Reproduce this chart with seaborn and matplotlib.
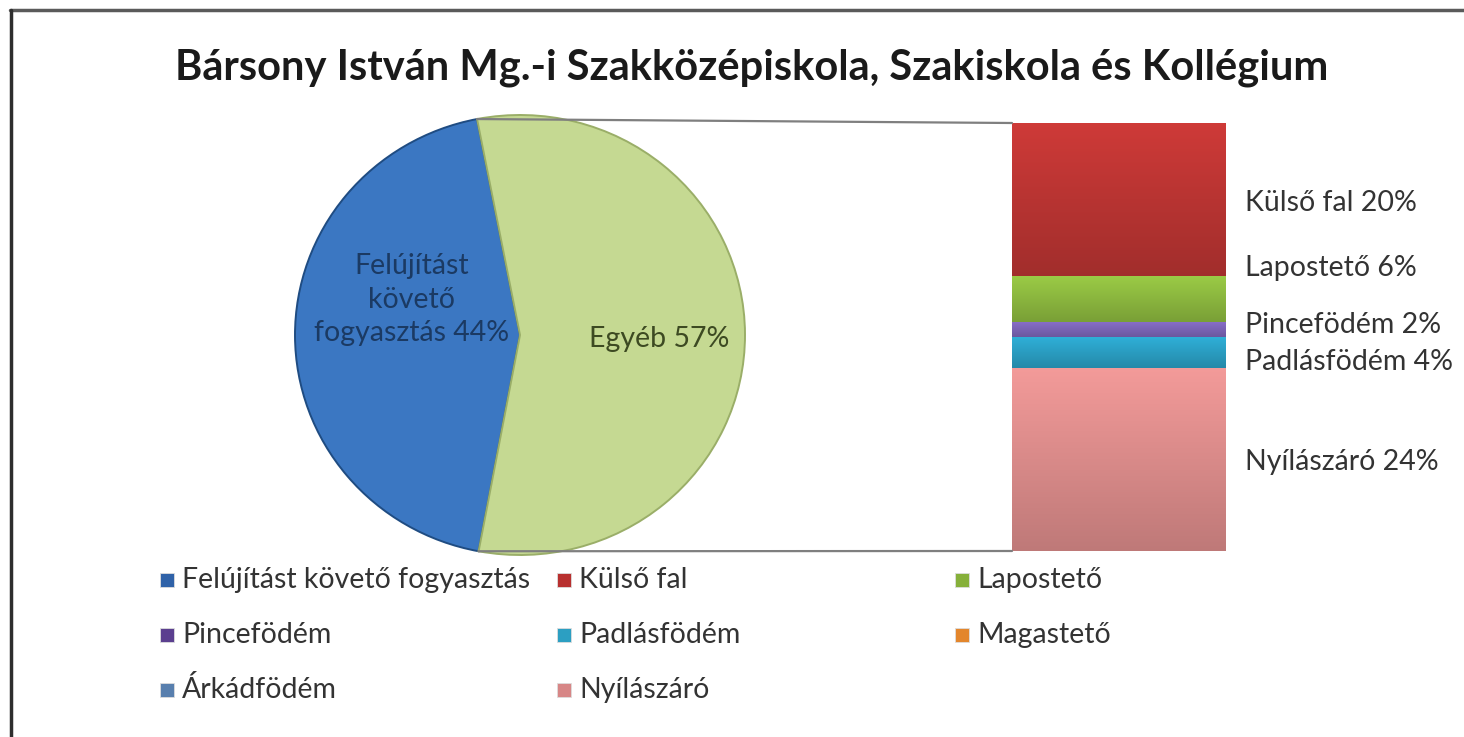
import numpy as np
import matplotlib
matplotlib.use('Agg')
import matplotlib.pyplot as plt
import seaborn as sns
from matplotlib.patches import ConnectionPatch, Rectangle
from matplotlib.lines import Line2D
from matplotlib.colors import to_rgb

# data
title = "Bársony István Mg.-i Szakközépiskola, Szakiskola és Kollégium"
pie_names = ["Felújítást\nkövető\nfogyasztás", "Egyéb"]
pie_values = [44, 56]
pie_shown_pct = [44, 57]

bar_names = ["Nyílászáró", "Padlásfödém", "Pincefödém", "Lapostető", "Külső fal"]
bar_values = [24, 4, 2, 6, 20]

legend_names = ["Felújítást követő fogyasztás", "Külső fal", "Lapostető",
                "Pincefödém", "Padlásfödém", "Magastető",
                "Árkádfödém", "Nyílászáró"]
legend_colors = ["#2f62a8", "#b8302f", "#86b03a",
                 "#5b3f8f", "#2c9fc2", "#e3862c",
                 "#587fae", "#d78686"]

pie_colors = ["#3b77c2", "#c5d992"]
pie_edge = ["#1f4c82", "#9aae68"]
bar_colors = {"Nyílászáró": "#d98a89", "Padlásfödém": "#2a9cc0", "Pincefödém": "#7a63b4",
              "Lapostető": "#8ab53e", "Külső fal": "#b83432"}

W, H = 1464, 737
sns.set_theme(style="white")
plt.rcParams['font.family'] = ['Lato', 'DejaVu Sans']

fig = plt.figure(figsize=(W / 100, H / 100), dpi=100)
fig.patch.set_facecolor("white")


def box(x0, y0, x1, y1):
    # pixel box (top-left origin) -> figure fraction rect
    return [x0 / W, 1 - y1 / H, (x1 - x0) / W, (y1 - y0) / H]


def fpt(x, y):
    return (x / W, 1 - y / H)


def shade(patch, ax, color, extent):
    # vertical light->dark gradient clipped to a patch (Excel-like bevel look)
    base = np.array(to_rgb(color))
    t = np.linspace(0, 1, 64)[:, None]
    rows = np.clip(base * (1.12 - 0.24 * t), 0, 1)
    img = np.repeat(rows[:, None, :], 2, axis=1)
    im = ax.imshow(img, extent=extent, aspect="auto", origin="upper", zorder=patch.get_zorder() + 0.1)
    im.set_clip_path(patch)


# frame of the slide
fig.add_artist(Line2D([fpt(10, 10)[0], 1], [fpt(10, 10)[1]] * 2, color="#5a5a5a", lw=2.5))
fig.add_artist(Line2D([fpt(11, 10)[0]] * 2, [fpt(11, 10)[1], 0], color="#2e2e2e", lw=2.5))

fig.text(*fpt(752, 68), title, ha="center", va="center", fontsize=30,
         fontweight="bold", color="#1a1a1a")

# pie
ax_pie = fig.add_axes(box(295, 115, 745, 555))
start = 101
wedges, _ = ax_pie.pie(pie_values, colors=pie_colors, startangle=start, counterclock=True,
                       radius=1, wedgeprops=dict(linewidth=1.4))
for w, ec in zip(wedges, pie_edge):
    w.set_edgecolor(ec)
ax_pie.set_aspect("auto")
ax_pie.set_xlim(-1, 1)
ax_pie.set_ylim(-1, 1)

ax_pie.text(-0.48, 0.16, f"{pie_names[0]} {pie_shown_pct[0]}%", ha="center", va="center",
            fontsize=20.5, color="#1b3a63", linespacing=1.35)
ax_pie.text(0.62, -0.02, f"{pie_names[1]} {pie_shown_pct[1]}%", ha="center", va="center",
            fontsize=20.5, color="#3d4a22")

# stacked bar of the "Egyéb" slice
ax_bar = fig.add_axes(box(1012, 123, 1226, 551))
bottom = 0
label_nudge = [-0.3, -1.3, 0.6, 4.0, -0.5]
for name, val, nudge in zip(bar_names, bar_values, label_nudge):
    sns.barplot(x=["Egyéb"], y=[val], bottom=bottom, color=bar_colors[name], width=1,
                saturation=1, edgecolor="#6e3a3a" if name in ("Külső fal", "Nyílászáró") else "#2b3f66",
                linewidth=0.8, ax=ax_bar)
    p = ax_bar.patches[-1]
    shade(p, ax_bar, bar_colors[name], (-0.5, 0.5, bottom, bottom + val))
    ax_bar.text(0.59, bottom + val / 2 + nudge, f"{name} {val}%", ha="left", va="center",
                fontsize=20.5, color="#333333", clip_on=False)
    bottom += val
ax_bar.set_xlim(-0.5, 0.5)
ax_bar.set_ylim(0, sum(bar_values))
ax_bar.axis("off")

# connector lines
for ang, ybar in [(start, sum(bar_values)), (start + 360 * pie_values[0] / sum(pie_values), 0)]:
    xy = (np.cos(np.radians(ang)), np.sin(np.radians(ang)))
    con = ConnectionPatch(xyA=xy, coordsA=ax_pie.transData, xyB=(-0.5, ybar),
                          coordsB=ax_bar.transData, color="#7f7f7f", lw=1.6)
    fig.add_artist(con)

# legend (three equal columns, like the original)
col_x = [160, 557, 955]
row_y = [580, 635, 690]
for i, (name, c) in enumerate(zip(legend_names, legend_colors)):
    x, y = col_x[i % 3], row_y[i // 3]
    fig.add_artist(Rectangle(fpt(x, y + 7), 14 / W, 14 / H, transform=fig.transFigure,
                             facecolor=c, edgecolor="#dddddd", lw=0.6))
    fig.text(*fpt(x + 22, y), name, ha="left", va="center", fontsize=20.5, color="#333333")

plt.savefig("out.png", dpi=100)
plt.close()
